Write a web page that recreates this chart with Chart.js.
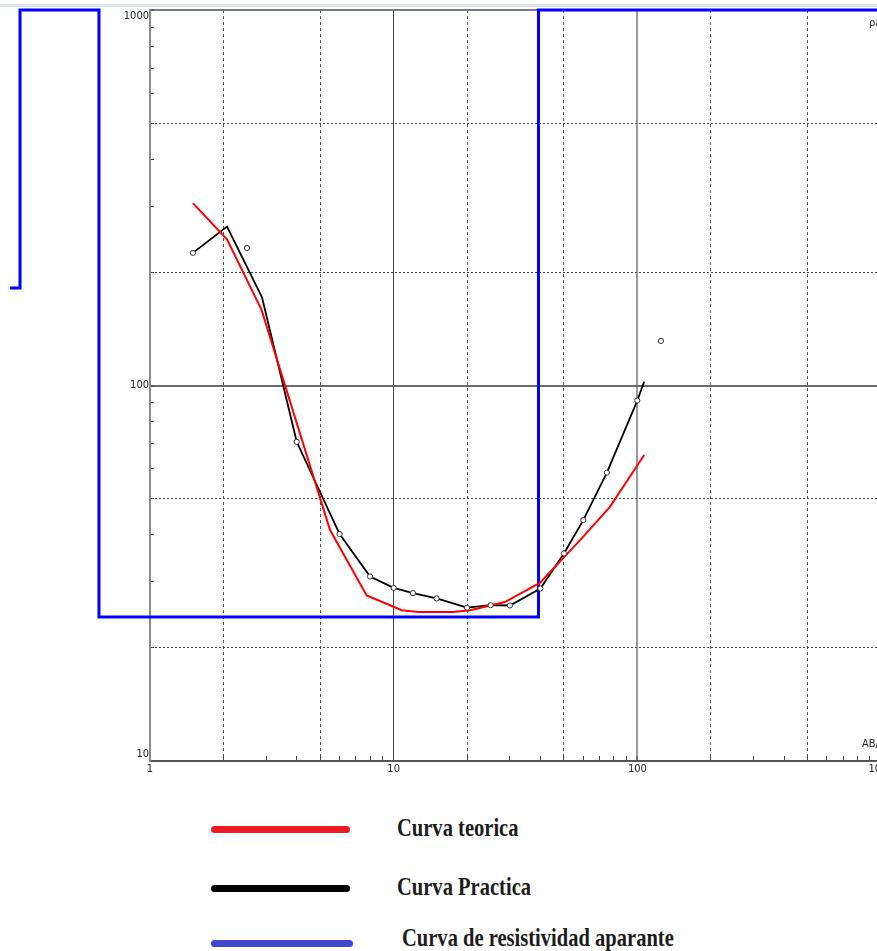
<!DOCTYPE html>
<html><head><meta charset="utf-8">
<script src="https://cdn.jsdelivr.net/npm/chart.js@4.4.1/dist/chart.umd.min.js"></script>
<style>
html,body{margin:0;padding:0;background:#fff;overflow:hidden;width:877px;height:951px;position:relative;}
#strip{position:absolute;left:0;top:4px;width:877px;height:3px;background:#dde4ee;}
#wrap{position:absolute;left:0;top:0;width:900px;height:780px;}
.bar{position:absolute;height:7px;border-radius:4px;}
.txt{position:absolute;font-family:'Liberation Serif','DejaVu Serif',serif;font-weight:bold;font-size:26px;color:#1c1c1c;transform-origin:0 50%;transform:scaleX(0.79);white-space:nowrap;line-height:30px;}
</style></head>
<body>
<div id="strip"></div>
<div id="wrap"><canvas id="c"></canvas></div>
<div id="legend"></div>
<script>
// ---- data ----
const teoricaX = [1.5, 2.07, 2.87, 5.48, 7.75, 10.8, 12.6, 17.6, 20.6, 28.6, 39.8, 58.1, 77.2, 106.7];
const teoricaY = [306, 245, 159, 41.2, 27.6, 25.2, 24.95, 24.95, 25.2, 26.5, 29.8, 38.7, 47.5, 65.3];

const practicaX = [1.5, 2.07, 2.88, 4, 6, 8, 10, 12, 15, 20, 25, 30, 40, 50, 60, 75, 100, 106.7];
const practicaY = [225.5, 265, 172, 70.8, 40.2, 31.0, 28.9, 28.0, 27.1, 25.6, 26.0, 25.95, 28.8, 35.7, 43.8, 58.6, 91.2, 102.4];

const puntosX = [1.5, 2.5, 4, 6, 8, 10, 12, 15, 20, 25, 30, 40, 50, 60, 75, 100, 125];
const puntosY = [225.5, 232.5, 70.8, 40.2, 31.0, 28.9, 28.0, 27.1, 25.6, 26.0, 25.95, 28.8, 35.7, 43.8, 58.6, 91.2, 131.4];

// resistivity model (listed right-to-left)
const modeloX = [1000, 39.3, 39.3, 0.6175, 0.6175, 0.2928, 0.2928, 0.2664];
const modeloY = [1000, 1000, 24.2, 24.2, 1000, 1000, 181.9, 181.9];

const xTickValues = [1,2,3,4,5,6,7,8,9,10,20,30,40,50,60,70,80,90,100,200,300,400,500,600,700,800,900,1000];
const yTickValues = [10,20,30,40,50,60,70,80,90,100,200,300,400,500,600,700,800,900,1000];
const xTickLabels = [1, 10, 100, 1000];
const yTickLabels = [10, 100, 1000];
const xDashed = [2, 5, 20, 50, 200, 500];
const yDashed = [20, 50, 200, 500];

const seriesNames = ['Curva teorica', 'Curva Practica', 'Curva de resistividad aparante'];
const legendColors = ['#ed1c24', '#000000', '#3f48cc'];
const xAxisTitle = 'AB/2';
const yAxisTitle = 'ρa';

const pts = (xs, ys) => xs.map((x, i) => ({x: x, y: ys[i]}));
const tickFont = {family: "'Liberation Sans Narrow','DejaVu Sans Condensed','Liberation Sans',sans-serif", size: 11};

const extraText = {
  id: 'extraText',
  afterDraw(chart) {
    const ctx = chart.ctx, a = chart.chartArea;
    ctx.save();
    ctx.font = "11px 'Liberation Sans Narrow','DejaVu Sans Condensed',sans-serif";
    ctx.fillStyle = '#222';
    ctx.textBaseline = 'middle';
    ctx.textAlign = 'left';
    ctx.fillText(xAxisTitle, a.right - 19, a.bottom - 17);
    ctx.fillText(yAxisTitle, a.right - 12, a.top + 13);
    ctx.restore();
  }
};

new Chart(document.getElementById('c'), {
  type: 'scatter',
  data: {
    datasets: [
      {label: 'Puntos', data: pts(puntosX, puntosY), showLine: false, pointRadius: 2.6, pointStyle: 'circle',
       pointBackgroundColor: '#fff', pointBorderColor: '#333', pointBorderWidth: 1},
      {label: seriesNames[0], data: pts(teoricaX, teoricaY), showLine: true, borderColor: '#ff0000', borderWidth: 2, pointRadius: 0},
      {label: seriesNames[1], data: pts(practicaX, practicaY), showLine: true, borderColor: '#000000', borderWidth: 1.8, pointRadius: 0},
      {label: seriesNames[2], data: pts(modeloX, modeloY), showLine: true, borderColor: '#0000ff', borderWidth: 3, pointRadius: 0, clip: false}
    ]
  },
  options: {
    responsive: true,
    maintainAspectRatio: false,
    animation: false,
    layout: {autoPadding: false, padding: {top: 10, right: 19, left: 0, bottom: 0}},
    plugins: {legend: {display: false}, tooltip: {enabled: false}},
    scales: {
      x: {
        type: 'logarithmic', min: 1, max: 1000, position: 'bottom',
        afterBuildTicks: s => { s.ticks = xTickValues.map(v => ({value: v})); },
        afterFit: s => { s.height = 19; s.paddingLeft = 0; s.paddingRight = 0; },
        ticks: {autoSkip: false, maxRotation: 0, padding: 7, color: '#222', font: tickFont,
          callback: v => xTickLabels.includes(v) ? String(v) : ''},
        grid: {
          drawTicks: true, tickLength: -5, tickColor: '#444', tickWidth: 1,
          color: c => { const v = c.tick && c.tick.value; if (v === 10) return '#444'; if (v === 100) return '#9a9a9a'; if (xDashed.includes(v)) return '#555'; return 'rgba(0,0,0,0)'; },
          lineWidth: c => { const v = c.tick && c.tick.value; return v === 100 ? 2 : 1; }
        },
        border: {color: '#555', width: 2, dash: c => { const v = c.tick && c.tick.value; return xDashed.includes(v) ? [3, 3] : []; }}
      },
      y: {
        type: 'logarithmic', min: 10, max: 1000, position: 'left',
        afterBuildTicks: s => { s.ticks = yTickValues.map(v => ({value: v})); },
        afterFit: s => { s.width = 150; s.paddingTop = 0; s.paddingBottom = 0; },
        ticks: {autoSkip: false, padding: 5, color: '#222', font: tickFont,
          callback: v => { if (!yTickLabels.includes(v)) return ''; if (v === 1000) return ['', '1000']; if (v === 10) return ['10', '']; return String(v); }},
        grid: {
          drawTicks: true, tickLength: -4, tickColor: '#444', tickWidth: 1,
          color: c => { const v = c.tick && c.tick.value; if (v === 100) return '#6a6a6a'; if (v === 1000) return '#7a7a7a'; if (yDashed.includes(v)) return '#444'; return 'rgba(0,0,0,0)'; },
          lineWidth: c => { const v = c.tick && c.tick.value; return (v === 100 || v === 1000) ? 2 : 1; }
        },
        border: {color: '#8a8a8a', width: 2, dash: c => { const v = c.tick && c.tick.value; return yDashed.includes(v) ? [2, 2] : []; }}
      }
    }
  },
  plugins: [extraText]
});

// ---- legend ----
const legendTops = [829.5, 888, 943.3];
const textTops = [813, 872, 923];
const textLefts = [397, 397, 402];
const leg = document.getElementById('legend');
seriesNames.forEach((name, i) => {
  const b = document.createElement('div');
  b.className = 'bar';
  b.style.left = '211px';
  b.style.width = (i === 2 ? 142 : 139) + 'px';
  b.style.top = (legendTops[i] - 3.5) + 'px';
  b.style.background = legendColors[i];
  leg.appendChild(b);
  const t = document.createElement('div');
  t.className = 'txt';
  t.style.left = textLefts[i] + 'px';
  t.style.top = textTops[i] + 'px';
  t.textContent = name;
  leg.appendChild(t);
});
</script>
</body></html>
